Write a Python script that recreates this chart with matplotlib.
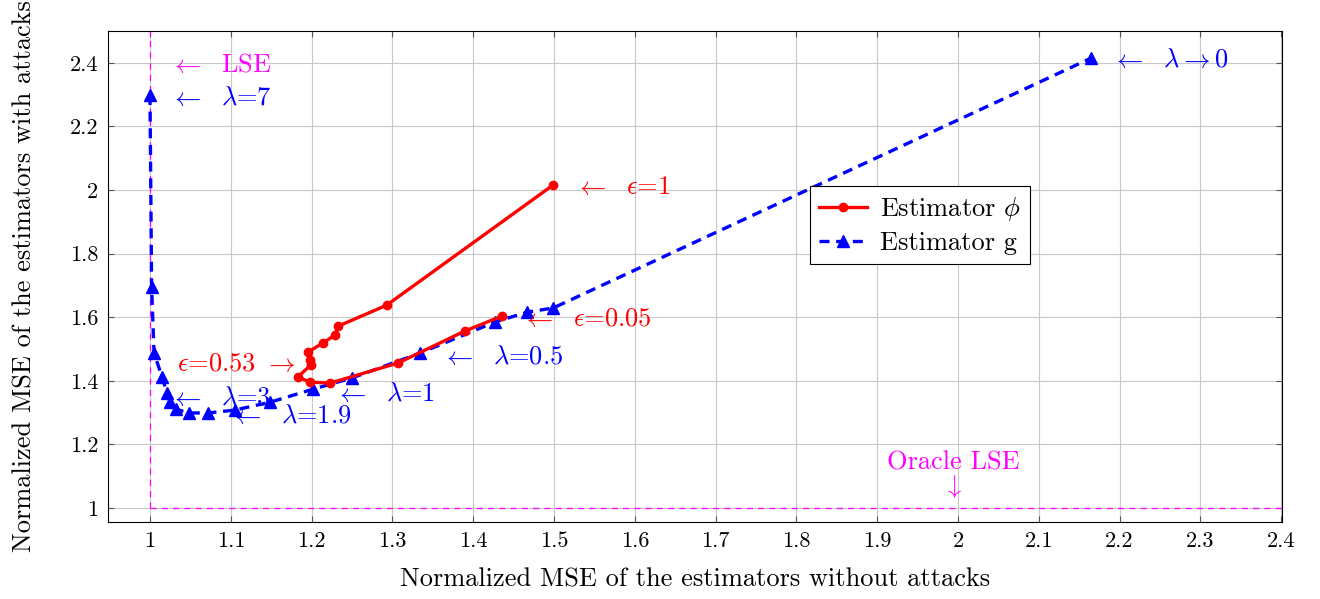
import numpy as np
import matplotlib
matplotlib.use("Agg")
import matplotlib.pyplot as plt

plt.rcParams['font.family'] = 'serif'
plt.rcParams['font.serif'] = ['cmr10']
plt.rcParams['mathtext.fontset'] = 'cm'
plt.rcParams['axes.formatter.use_mathtext'] = True

# Estimator phi (red), from eps=0.05 to eps=1
phi_x = [1.436, 1.390, 1.307, 1.223, 1.198, 1.183, 1.199, 1.198, 1.196,
         1.214, 1.229, 1.233, 1.293, 1.499]
phi_y = [1.604, 1.557, 1.456, 1.393, 1.396, 1.412, 1.450, 1.465, 1.491,
         1.519, 1.544, 1.572, 1.638, 2.016]

# Estimator g (blue), from lambda=7 to lambda->0
g_x = [1.000, 1.002, 1.005, 1.015, 1.021, 1.025, 1.032, 1.048, 1.072,
       1.105, 1.149, 1.202, 1.250, 1.334, 1.427, 1.467, 1.499, 2.165]
g_y = [2.299, 1.695, 1.487, 1.412, 1.362, 1.333, 1.311, 1.299, 1.299,
       1.308, 1.333, 1.374, 1.409, 1.487, 1.585, 1.616, 1.629, 2.415]

xticks = [1, 1.1, 1.2, 1.3, 1.4, 1.5, 1.6, 1.7, 1.8, 1.9, 2, 2.1, 2.2, 2.3, 2.4]
yticks = [1, 1.2, 1.4, 1.6, 1.8, 2, 2.2, 2.4]

fig = plt.figure(figsize=(13.2, 5.99), dpi=100)
ax = fig.add_axes([0.0818, 0.1285, 0.8894, 0.8197])

xmin, xmax = 0.948, 2.401
ymin, ymax = 0.956, 2.5

# LSE / oracle LSE reference lines
ax.plot([1, 1], [1, ymax], color='magenta', lw=0.9, ls=(0, (5, 4)), zorder=1)
ax.plot([1, xmax], [1, 1], color='magenta', lw=0.9, ls=(0, (5, 4)), zorder=1)

ax.plot(phi_x, phi_y, color='red', lw=2.4, marker='o', ms=6,
        label=r'Estimator $\phi$', zorder=3)
ax.plot(g_x, g_y, color='blue', lw=2.4, ls=(0, (3, 2)), marker='^', ms=9,
        label='Estimator g', zorder=2)

fs = 19
sp = r'\ \ '
ax.text(1.025, 2.392, r'$\leftarrow' + sp + r'$LSE', color='magenta', fontsize=fs, va='center')
ax.text(1.025, 2.29, r'$\leftarrow' + sp + r'\lambda$=7', color='blue', fontsize=fs, va='center')
ax.text(2.191, 2.41, r'$\leftarrow' + sp + r'\lambda\rightarrow 0$', color='blue', fontsize=fs, va='center')
ax.text(1.526, 2.01, r'$\leftarrow' + sp + r'\epsilon$=1', color='red', fontsize=fs, va='center')
ax.text(1.461, 1.594, r'$\leftarrow' + sp + r'\epsilon$=0.05', color='red', fontsize=fs, va='center')
ax.text(1.362, 1.474, r'$\leftarrow' + sp + r'\lambda$=0.5', color='blue', fontsize=fs, va='center')
ax.text(1.180, 1.452, r'$\epsilon$=0.53 $\rightarrow$', color='red', fontsize=fs, va='center', ha='right')
ax.text(1.229, 1.358, r'$\leftarrow' + sp + r'\lambda$=1', color='blue', fontsize=fs, va='center')
ax.text(1.025, 1.345, r'$\leftarrow' + sp + r'\lambda$=3', color='blue', fontsize=fs, va='center')
ax.text(1.099, 1.288, r'$\leftarrow' + sp + r'\lambda$=1.9', color='blue', fontsize=fs, va='center')
ax.text(1.994, 1.142, 'Oracle LSE', color='magenta', fontsize=fs, va='center', ha='center')
ax.text(1.994, 1.068, r'$\downarrow$', color='magenta', fontsize=fs, va='center', ha='center')

ax.set_xlim(xmin, xmax)
ax.set_ylim(ymin, ymax)
ax.set_xticks(xticks)
ax.set_xticklabels(['%g' % v for v in xticks])
ax.set_yticks(yticks)
ax.set_yticklabels(['%g' % v for v in yticks])
ax.tick_params(direction='in', top=True, right=True, labelsize=16, length=4, pad=7,
               color='#555555')
ax.grid(True, color='#c8c8c8', lw=0.8)
ax.set_axisbelow(True)

ax.set_xlabel('Normalized MSE of the estimators without attacks', fontsize=19, labelpad=12)
ax.set_ylabel('Normalized MSE of the estimators with attacks', fontsize=19, labelpad=24)

leg = ax.legend(loc='upper left', bbox_to_anchor=(0.598, 0.684), fontsize=19,
                fancybox=False, edgecolor='black', framealpha=1, handlelength=1.8,
                borderpad=0.35, labelspacing=0.3, handletextpad=0.5, borderaxespad=0)
leg.get_frame().set_linewidth(0.8)

fig.savefig('out.png', dpi=100)
